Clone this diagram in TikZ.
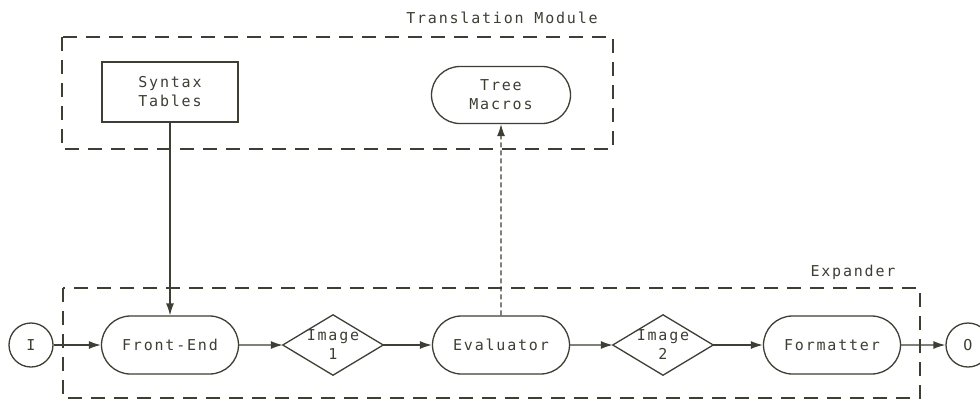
\documentclass[tikz,border=0pt]{standalone}
\usepackage{fontspec}
\setmonofont{DejaVu Sans Mono}[LetterSpace=12]
\usetikzlibrary{shapes.misc,arrows.meta}
\definecolor{ink}{RGB}{62,62,52}
\begin{document}
\begin{tikzpicture}[x=1pt,y=-1pt,
  lbl/.style={font=\ttfamily\fontsize{15}{19}\selectfont, text=ink, align=center},
  proc/.style={rounded rectangle, draw=ink, line width=1.3pt, minimum width=137pt, minimum height=58pt, inner sep=0pt, lbl},
  tbl/.style={rectangle, draw=ink, line width=1.3pt, minimum width=136pt, minimum height=60pt, inner sep=0pt, lbl},
  term/.style={circle, draw=ink, line width=1.3pt, minimum size=44pt, inner sep=0pt, lbl},
  dec/.style={rectangle, minimum width=100pt, minimum height=60pt, inner sep=0pt, lbl},
  grp/.style={draw=ink, line width=1.2pt, dash pattern=on 14pt off 9pt},
  flow/.style={draw=ink, line width=1.3pt, -{Latex[length=12pt,width=8pt]}},
  link/.style={flow, dash pattern=on 5pt off 3pt}]
\useasboundingbox (0,0) rectangle (980,405);
\fill[white] (0,0) rectangle (980,405);

% group boxes
\draw[grp] (62,37) rectangle (613,149);
\draw[grp] (63,288) rectangle (920,398);
\node[lbl] (tmlabel) at (502,18) {Translation Module};
\node[lbl] (explabel) at (853,272) {Expander};

% translation module
\node[tbl] (syn) at (170,92) {Syntax\\Tables};
\node[proc, minimum width=139pt, minimum height=57pt] (tree) at (501,95) {Tree\\Macros};

% main row
\node[term] (in) at (31,345) {I};
\node[proc] (fe) at (170,345) {Front-End};
\node[dec] (img1) at (333,345) {Image\\1};
\node[proc] (ev) at (501,345) {Evaluator};
\node[dec] (img2) at (663,345) {Image\\2};
\node[proc] (fmt) at (832,345) {Formatter};
\node[term] (out) at (968,345) {O};

\draw[ink, line width=1.3pt] (img1.west) -- (img1.north) -- (img1.east) -- (img1.south) -- cycle;
\draw[ink, line width=1.3pt] (img2.west) -- (img2.north) -- (img2.east) -- (img2.south) -- cycle;

% connectors
\draw[flow] (in) -- (fe);
\draw[flow] (fe) -- (img1.west);
\draw[flow] (img1.east) -- (ev);
\draw[flow] (ev) -- (img2.west);
\draw[flow] (img2.east) -- (fmt);
\draw[flow] (fmt) -- (out);
\draw[flow] (syn) -- (fe);
\draw[link] (ev) -- (tree);
\end{tikzpicture}
\end{document}
